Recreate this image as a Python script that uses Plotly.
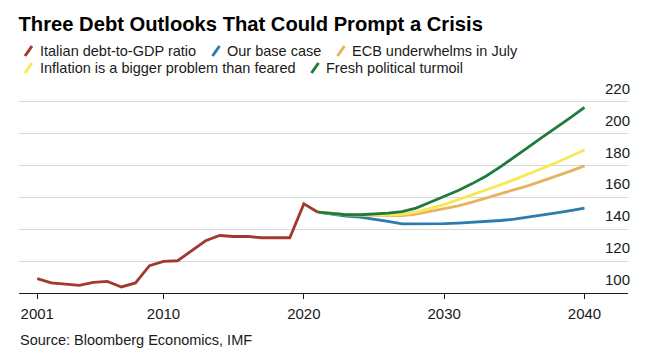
import plotly.graph_objects as go

# ---------------- data ----------------
hist_years = list(range(2001, 2022))
italy_debt = [109.0, 106.3, 105.6, 104.8, 106.7, 107.3, 103.8, 106.3, 117.1, 119.8,
              120.2, 126.5, 132.7, 136.0, 135.4, 135.4, 134.6, 134.6, 134.6, 155.8, 150.6]

proj_years = list(range(2021, 2041))
base_case = [150.6, 149.2, 148.2, 147.5, 146.3, 144.8, 143.3, 143.3, 143.3, 143.4,
             143.8, 144.2, 144.8, 145.4, 146.2, 147.4, 148.8, 150.2, 151.6, 153.1]
ecb_under = [150.6, 149.6, 149.0, 148.8, 148.6, 148.4, 148.4, 149.4, 151.0, 152.6,
             154.6, 156.9, 159.4, 161.9, 164.6, 167.3, 170.2, 173.1, 176.3, 179.6]
inflation = [150.6, 149.6, 149.0, 148.8, 148.8, 149.0, 149.3, 150.7, 153.0, 155.4,
             158.5, 161.5, 164.6, 167.7, 171.0, 174.4, 178.1, 181.7, 185.4, 189.6]
turmoil = [150.6, 149.6, 149.0, 149.0, 149.4, 150.0, 151.0, 153.2, 156.8, 160.5,
           164.2, 168.5, 173.3, 179.0, 185.0, 191.3, 197.6, 203.5, 209.8, 216.3]

series_names = ["Italian debt-to-GDP ratio", "Our base case", "ECB underwhelms in July",
                "Inflation is a bigger problem than feared", "Fresh political turmoil"]
series_colors = ["#a3392c", "#2c7bae", "#e8b35f", "#f4ea55", "#1f7a3d"]

x_tickvals = [2001, 2010, 2020, 2030, 2040]
x_ticktext = ["2001", "2010", "2020", "2030", "2040"]
y_tickvals = [100, 120, 140, 160, 180, 200, 220]
y_ticktext = ["100", "120", "140", "160", "180", "200", "220"]

title_text = "Three Debt Outlooks That Could Prompt a Crisis"
source_text = "Source: Bloomberg Economics, IMF"

# ---------------- layout constants ----------------
W, H = 652, 352
ML, MR, MT, MB = 19, 24, 78, 59
PW, PH = W - ML - MR, H - MT - MB
FONT = "Liberation Sans, Arial, sans-serif"
TXT = "#1a1a1a"


def px_x(px):
    return (px - ML) / PW


def px_y(py):
    return (H - MB - py) / PH


fig = go.Figure()

fig.add_trace(go.Scatter(x=hist_years, y=italy_debt, mode="lines", name=series_names[0],
                         line=dict(color=series_colors[0], width=2.8), showlegend=False))
for name, color, vals in zip(series_names[1:], series_colors[1:],
                             [base_case, ecb_under, inflation, turmoil]):
    fig.add_trace(go.Scatter(x=proj_years, y=vals, mode="lines", name=name,
                             line=dict(color=color, width=2.8), showlegend=False))

# legend drawn as annotations with slash glyphs
legend_pos = [(38.5, 51), (226, 51), (351, 51), (38.5, 68), (325, 68)]
annotations = []
shapes = []
for (tx, ty), name, color in zip(legend_pos, series_names, series_colors):
    annotations.append(dict(text=name, x=px_x(tx), y=px_y(ty), xref="paper", yref="paper",
                            xanchor="left", yanchor="middle", showarrow=False,
                            font=dict(family=FONT, size=14.5, color=TXT), borderpad=0))
    shapes.append(dict(type="line", xref="paper", yref="paper", xsizemode="pixel",
                       ysizemode="pixel", xanchor=px_x(tx - 10), yanchor=px_y(ty),
                       x0=-3.5, x1=3.5, y0=-5, y1=5,
                       line=dict(color=color, width=3)))

annotations.append(dict(text=source_text, x=px_x(18.5), y=px_y(340), xref="paper", yref="paper",
                        xanchor="left", yanchor="middle", showarrow=False,
                        font=dict(family=FONT, size=14.5, color=TXT), borderpad=0))

fig.update_layout(
    width=W, height=H,
    margin=dict(l=ML, r=MR, t=MT, b=MB, pad=0),
    paper_bgcolor="white", plot_bgcolor="white",
    showlegend=False,
    title=dict(text="<b>" + title_text + "</b>", x=18.5 / W, xref="container", xanchor="left",
               y=1 - 24 / H, yref="container", yanchor="middle",
               font=dict(family=FONT, size=20.2, color="#000000")),
    xaxis=dict(range=[1999.70, 2043.10], tickvals=x_tickvals, ticktext=x_ticktext,
               showgrid=False, zeroline=False, showline=True, linecolor=TXT, linewidth=1.2,
               ticks="outside", ticklen=5, tickwidth=1, tickcolor=TXT,
               ticklabelstandoff=2, automargin=False,
               tickfont=dict(family=FONT, size=15, color=TXT)),
    yaxis=dict(range=[100, 100 + PH / 1.5967], tickvals=y_tickvals, ticktext=y_ticktext,
               side="right", showgrid=True, gridcolor="#d9d9d9", gridwidth=1,
               zeroline=False, showline=False, ticks="", automargin=False,
               ticklabelposition="inside", ticklabelshift=-13, ticklabelstandoff=-5,
               tickfont=dict(family=FONT, size=15, color=TXT)),
    annotations=annotations,
    shapes=shapes,
)

fig.write_html("out.html")
